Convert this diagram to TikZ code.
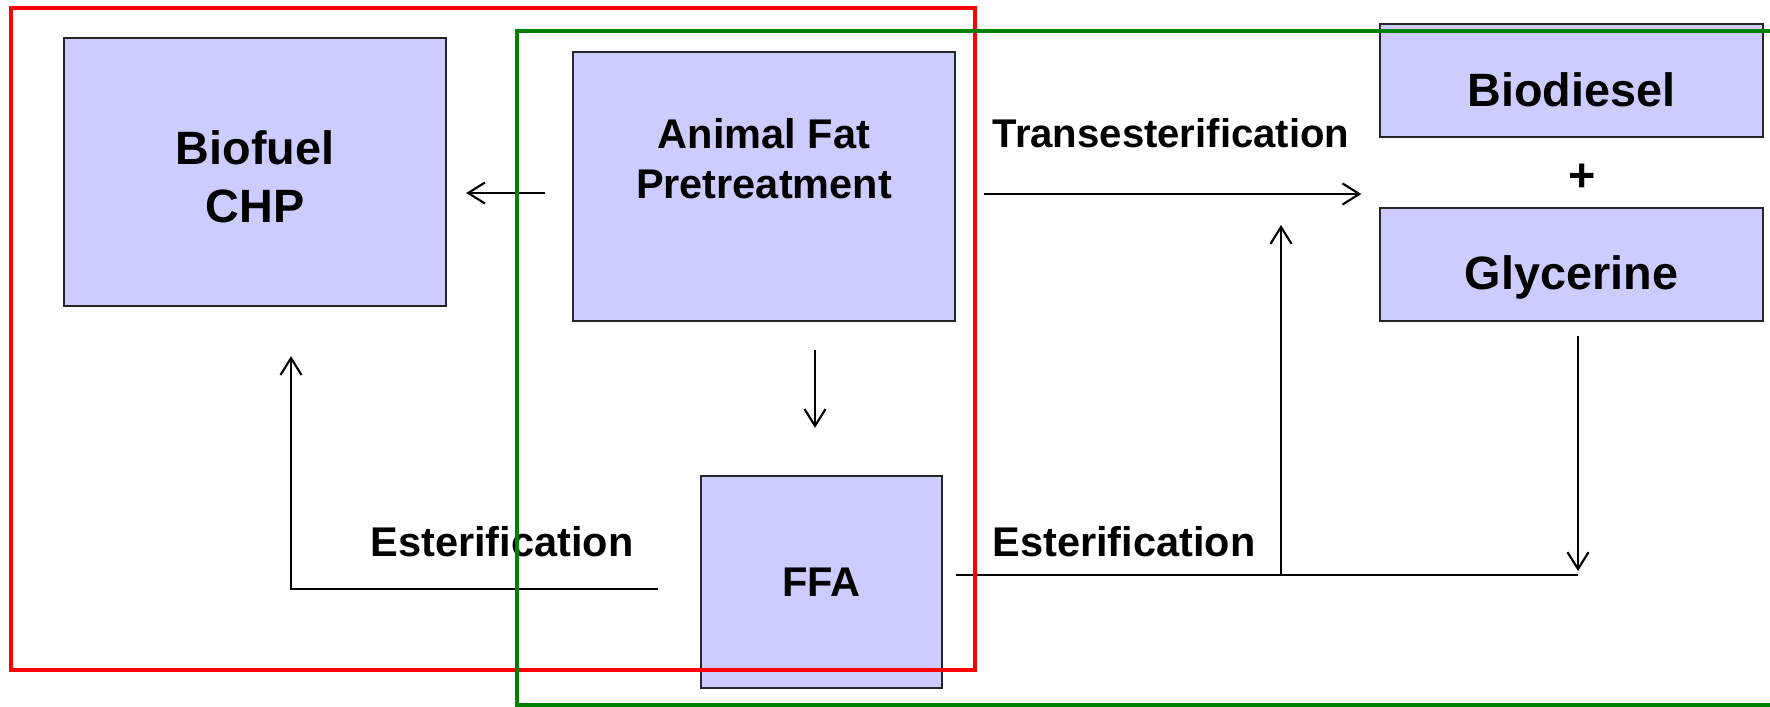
\documentclass[tikz,border=0pt]{standalone}
\usepackage{fontspec}
\setmainfont{Liberation Sans}
\usetikzlibrary{arrows.meta}

\begin{document}
\begin{tikzpicture}[x=0.01cm, y=-0.01cm,
    box/.style={rectangle, draw=black!85, line width=0.6pt, fill=blue!20, inner sep=0pt, align=center},
    big/.style={font=\fontsize{13.3}{16.5}\selectfont\bfseries},
    small/.style={font=\fontsize{11.8}{14.2}\selectfont\bfseries},
    flow/.style={line width=0.6pt, -{Straight Barb[length=4.8pt,width=6pt]}},
    frame/.style={line width=1.4pt}]
    \useasboundingbox (0,0) rectangle (1770,706);

    % Process boxes
    \node[box, big, minimum width=3.82cm, minimum height=2.68cm, text height=29pt, text depth=0pt] (chp) at (255,172) {Biofuel\\CHP};
    \node[box, small, minimum width=3.82cm, minimum height=2.69cm, text depth=16.2pt] (pretreat) at (764,186.5) {Animal Fat\\Pretreatment};
    \node[box, big, minimum width=3.83cm, minimum height=1.13cm, text height=15pt, text depth=0pt] (biodiesel) at (1571.5,80.5) {Biodiesel};
    \node[box, big, minimum width=3.83cm, minimum height=1.13cm, text height=16.8pt, text depth=2.8pt] (glycerine) at (1571.5,264.5) {Glycerine};
    \node[big] (plus) at (1582,178) {+};
    \node[box, small, minimum width=2.41cm, minimum height=2.12cm] (ffa) at (821.5,582) {FFA};

    % Reaction labels
    \node[font=\fontsize{11.4}{14}\selectfont\bfseries, anchor=base] (trans) at (1171,147) {Transesterification};
    \node[small, anchor=base] (esterL) at (502,556) {Esterification};
    \node[small, anchor=base] (esterR) at (1124,556) {Esterification};

    % Connectors
    \coordinate (merge) at (1578,575);
    \coordinate (junction) at (1281,575);
    \coordinate (up) at (1281,225);
    \draw[flow] ([shift={(-27,6.5)}]pretreat.west) -- ([shift={(19,21)}]chp.east);
    \draw[flow] ([shift={(28,7.5)}]pretreat.east) -- ([shift={(-17.5,-70.5)}]glycerine.west);
    \draw[flow] ([shift={(51,28)}]pretreat.south) -- ([shift={(-6.5,-47)}]ffa.north);
    \draw[flow] ([shift={(-42,7)}]ffa.west) -| ([shift={(36,49)}]chp.south);
    \draw[line width=0.6pt] ([shift={(13,-7)}]ffa.east) -- (merge);
    \draw[flow] (junction) -- (up);
    \draw[flow] ([shift={(6.5,14)}]glycerine.south) -- ([shift={(0,-4)}]merge);

    % Frames
    \draw[frame, red] (11,8) rectangle (975,670);
    \draw[frame, green!50!black] (517,31) rectangle (1800,705);
\end{tikzpicture}
\end{document}
